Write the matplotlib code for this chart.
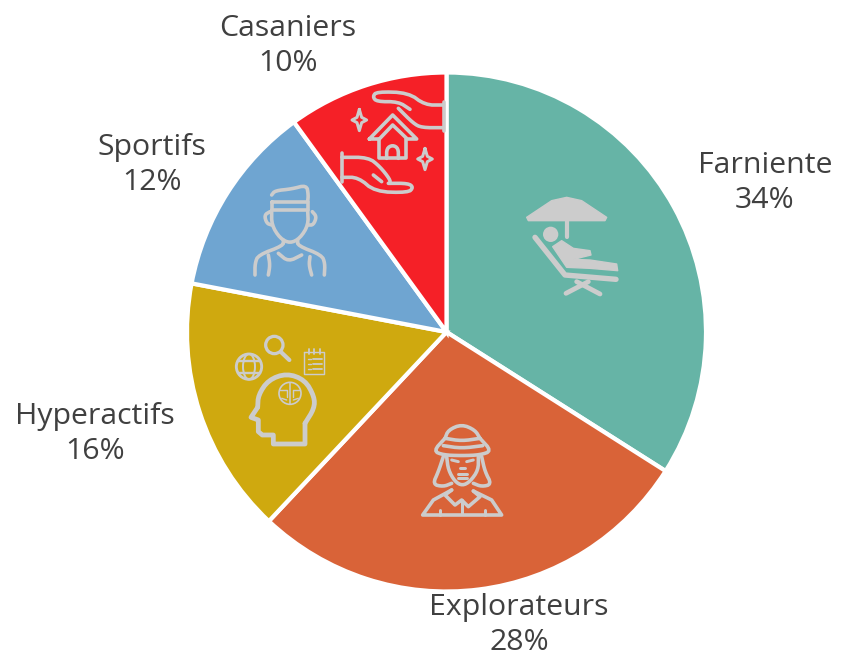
import numpy as np
import matplotlib
matplotlib.use("Agg")
import matplotlib.pyplot as plt
from matplotlib.patches import Circle, Ellipse, Polygon

# ===============================
# DATA
# ===============================
categories = ["Farniente", "Explorateurs", "Hyperactifs", "Sportifs", "Casaniers"]
shares = [34, 28, 16, 12, 10]
slice_colors = ["#66B4A6", "#D96338", "#CFA90F", "#6FA5D1", "#F52027"]

W, H = 841, 656
ICON = "#CCCCCC"
PX = 72 / 100  # one pixel in points
THICK = 1.2    # icon strokes

plt.rcParams["font.family"] = ["Open Sans", "DejaVu Sans"]
fig = plt.figure(figsize=(W / 100, H / 100), dpi=100)
ax = fig.add_axes([0, 0, 1, 1])

# ===============================
# PIE
# ===============================
ax.pie(shares, colors=slice_colors, startangle=90, counterclock=False,
       center=(446.5, H - 332), radius=259.5,
       wedgeprops=dict(edgecolor="white", linewidth=4.2 * PX))
ax.set_xlim(0, W)
ax.set_ylim(0, H)
ax.set_aspect("equal")
ax.axis("off")

# ===============================
# LABELS
# ===============================
label_pos = [(765, 183), (519, 625), (95, 434), (152, 165), (288, 46)]
for name, val, (x, y) in zip(categories, shares, label_pos):
    ax.text(x, H - y, f"{name}\n{val}%", ha="center", va="center",
            fontsize=21.8, color="#404040", linespacing=1.3)


# ===============================
# ICONS (drawn from zoomed pixel positions, scale 1/3)
# ===============================
def smooth(pts, n=2):
    pts = np.array(pts, dtype=float)
    for _ in range(n):
        q = pts[:-1] * 0.75 + pts[1:] * 0.25
        r = pts[:-1] * 0.25 + pts[1:] * 0.75
        mid = np.empty((len(q) * 2, 2))
        mid[0::2] = q
        mid[1::2] = r
        pts = np.vstack([pts[0], mid, pts[-1]])
    return pts


def to_px(origin, pts):
    pts = np.array(pts, dtype=float)
    return np.column_stack([origin[0] + pts[:, 0] / 3, H - (origin[1] + pts[:, 1] / 3)])


def stroke(origin, pts, lw=3, soft=False, color=ICON):
    p = smooth(pts) if soft else pts
    p = to_px(origin, p)
    ax.plot(p[:, 0], p[:, 1], color=color, lw=lw * THICK * PX, solid_capstyle="round",
            solid_joinstyle="round", zorder=5)


def fill(origin, pts):
    ax.add_patch(Polygon(to_px(origin, pts), closed=True, fc=ICON, ec=ICON,
                         lw=1, joinstyle="round", zorder=5))


def ring(origin, c, r, lw=3):
    p = to_px(origin, [c])[0]
    ax.add_patch(Circle(p, r / 3, fc="none", ec=ICON, lw=lw * THICK * PX, zorder=5))


# --- Farniente
o = (510, 180)
fill(o, [(50, 112), (125, 62), (170, 52), (215, 62), (290, 112), (285, 122), (55, 122)])
stroke(o, [(170, 120), (170, 172)], 3.5)
ax.add_patch(Circle(to_px(o, [(122, 163)])[0], 23 / 3, fc=ICON, ec="none", zorder=5))
stroke(o, [(75, 172), (165, 285), (318, 298)], 4.5)
fill(o, [(128, 200), (155, 182), (190, 205), (240, 212), (243, 225), (190, 238), (240, 240),
         (320, 252), (323, 272), (240, 265), (170, 262)])
stroke(o, [(168, 340), (235, 305)], 4)
stroke(o, [(200, 305), (270, 342)], 4)

# --- Casaniers
o = (330, 80)
stroke(o, [(342, 65), (342, 153)], 3)
stroke(o, [(340, 75), (285, 75), (235, 38), (140, 35), (128, 50), (140, 65), (205, 65), (240, 88)], 3, True)
stroke(o, [(205, 85), (250, 130), (275, 143), (340, 143)], 3, True)
stroke(o, [(36, 218), (36, 305)], 3)
stroke(o, [(36, 232), (115, 232), (150, 260), (180, 298), (180, 310)], 3, True)
stroke(o, [(130, 285), (155, 305)], 3)
stroke(o, [(36, 292), (85, 292), (135, 335), (235, 338), (250, 322), (235, 310), (175, 310)], 3, True)
stroke(o, [(118, 177), (188, 105), (260, 177), (232, 177), (188, 135), (148, 177), (118, 177)], 3)
stroke(o, [(148, 177), (148, 235), (228, 235), (228, 177)], 3)
stroke(o, [(170, 235), (170, 205), (188, 195), (205, 205), (205, 235)], 3, True)
for cx, cy in [(88, 120), (285, 237)]:
    star = [(0, -32), (7, -8), (22, 0), (7, 8), (0, 32), (-7, 8), (-22, 0), (-7, -8), (0, -32)]
    stroke(o, [(cx + a, cy + b) for a, b in star], 2.5)

# --- Sportifs
o = (225, 175)
stroke(o, [(140, 60), (150, 47), (200, 42), (245, 30), (250, 60), (248, 80)], 3, True)
stroke(o, [(140, 82), (248, 82), (248, 105), (140, 105), (140, 82)], 3)
stroke(o, [(140, 105), (140, 150), (165, 190), (195, 205), (225, 190), (250, 150), (248, 105)], 3, True)
stroke(o, [(135, 110), (118, 120), (125, 145), (140, 150)], 3, True)
stroke(o, [(262, 110), (275, 125), (265, 150), (250, 150)], 3, True)
stroke(o, [(175, 195), (175, 212), (100, 240), (90, 265), (90, 300)], 3, True)
stroke(o, [(218, 195), (218, 212), (290, 240), (300, 265), (298, 300)], 3, True)
stroke(o, [(160, 235), (190, 260), (230, 240)], 3, True)
stroke(o, [(130, 240), (135, 270), (130, 300)], 3, True)
stroke(o, [(255, 245), (252, 270), (260, 300)], 3, True)

# --- Hyperactifs
o = (225, 330)
ring(o, (148, 45), 26, 2.7)
stroke(o, [(170, 68), (193, 90)], 3.5)
ring(o, (72, 110), 38, 2.4)
g = to_px(o, [(72, 110)])[0]
ax.add_patch(Ellipse(g, 36 / 3, 76 / 3, fc="none", ec=ICON, lw=2 * PX, zorder=5))
stroke(o, [(40, 92), (104, 92)], 2)
stroke(o, [(40, 128), (104, 128)], 2)
stroke(o, [(238, 65), (298, 65), (298, 132), (238, 132), (238, 65)], 1.2)
for xr in (252, 268, 284):
    stroke(o, [(xr, 58), (xr, 72)], 1.5)
for yr in (87, 102, 117):
    stroke(o, [(250, yr), (258, yr)], 1.2)
    stroke(o, [(264, yr), (290, yr)], 1.5)
stroke(o, [(240, 280), (268, 235), (268, 200), (240, 150), (185, 130), (130, 150), (100, 195), (98, 232)], 4, True)
stroke(o, [(98, 232), (78, 262), (100, 270), (100, 305), (112, 315), (145, 315), (145, 342), (240, 342), (240, 280)], 4)
ring(o, (195, 190), 33, 1.4)
stroke(o, [(195, 158), (195, 222)], 1.3)
stroke(o, [(165, 180), (185, 180), (185, 200)], 1.2)
stroke(o, [(225, 180), (205, 180), (205, 200)], 1.2)
stroke(o, [(170, 205), (185, 210)], 1.2)
stroke(o, [(220, 205), (205, 210)], 1.2)

# --- Explorateurs
o = (410, 415)
stroke(o, [(105, 70), (115, 45), (155, 28), (195, 45), (210, 70)], 3, True)
stroke(o, [(105, 70), (70, 108), (100, 120), (155, 122), (210, 120), (245, 108), (210, 70)], 3, True)
stroke(o, [(105, 70), (155, 78), (210, 70)], 3, True)
stroke(o, [(100, 92), (155, 100), (218, 92)], 3, True)
stroke(o, [(100, 125), (85, 170), (68, 208), (100, 215), (125, 205)], 3, True)
stroke(o, [(215, 125), (225, 170), (245, 208), (215, 215), (190, 205)], 3, True)
stroke(o, [(110, 125), (115, 165), (135, 200), (157, 212), (180, 200), (205, 165), (205, 125)], 3, True)
stroke(o, [(125, 225), (70, 255), (38, 300), (275, 300), (245, 255), (190, 228)], 3)
stroke(o, [(125, 225), (105, 240), (135, 270), (155, 255), (175, 275), (210, 245), (190, 228)], 3)
stroke(o, [(155, 255), (155, 298)], 2.5)
stroke(o, [(90, 285), (90, 300)], 2.5)
stroke(o, [(225, 285), (225, 300)], 2.5)
stroke(o, [(125, 135), (145, 140)], 2.5)
stroke(o, [(170, 140), (190, 135)], 2.5)
stroke(o, [(150, 160), (165, 160)], 2.5)
stroke(o, [(145, 178), (170, 178)], 2.5)
stroke(o, [(145, 190), (170, 190)], 2.5)

fig.savefig("out.png", dpi=100)
